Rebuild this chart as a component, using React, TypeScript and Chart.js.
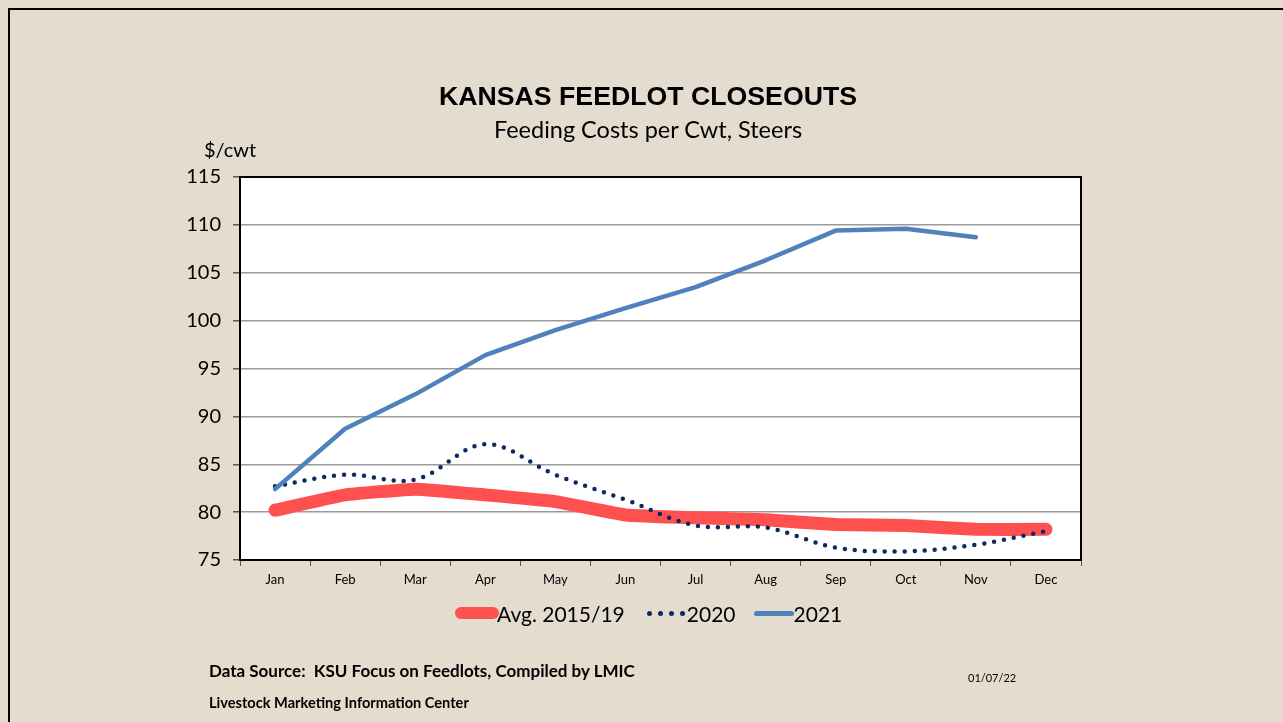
import React, { useEffect, useRef } from "react";
import { Chart, registerables } from "chart.js";

Chart.register(...registerables);

const months = ["Jan", "Feb", "Mar", "Apr", "May", "Jun", "Jul", "Aug", "Sep", "Oct", "Nov", "Dec"];
const avg1519 = [80.2, 81.8, 82.4, 81.8, 81.1, 79.7, 79.4, 79.2, 78.7, 78.6, 78.2, 78.2];
const y2020 = [82.7, 83.9, 83.4, 87.1, 83.9, 81.3, 78.6, 78.4, 76.3, 75.9, 76.6, 78.0];
const y2021 = [82.4, 88.7, 92.3, 96.4, 99.0, 101.3, 103.5, 106.3, 109.4, 109.6, 108.7, null];
const yMin = 75;
const yMax = 115;
const yStep = 5;

const seriesNames = ["Avg. 2015/19", "2020", "2021"];
const seriesColors = ["#ff5050", "#0c2a62", "#4f81bd"];

const bodyFont = "Lato, 'Open Sans', sans-serif";

const plotFrame = {
  id: "plotFrame",
  beforeDraw(chart: any) {
    const { ctx, chartArea: a } = chart;
    ctx.save();
    ctx.fillStyle = "#ffffff";
    ctx.fillRect(a.left, a.top, a.right - a.left, a.bottom - a.top);
    ctx.restore();
  },
  afterDraw(chart: any) {
    const { ctx, chartArea: a } = chart;
    ctx.save();
    ctx.strokeStyle = "#000000";
    ctx.lineWidth = 2;
    ctx.strokeRect(a.left, a.top, a.right - a.left, a.bottom - a.top);
    ctx.restore();
  },
};

export default function App() {
  const ref = useRef<HTMLCanvasElement | null>(null);

  useEffect(() => {
    if (!ref.current) return;
    const chart = new Chart(ref.current, {
      type: "line",
      data: {
        labels: months,
        datasets: [
          {
            label: seriesNames[2],
            data: y2021,
            borderColor: seriesColors[2],
            borderWidth: 4.5,
            pointRadius: 0,
            tension: 0,
            borderCapStyle: "round",
            borderJoinStyle: "round",
            fill: false,
            order: 1,
          },
          {
            label: seriesNames[1],
            data: y2020,
            borderColor: seriesColors[1],
            borderWidth: 4.5,
            borderDash: [0, 10],
            borderCapStyle: "round",
            pointRadius: 0,
            tension: 0.35,
            fill: false,
            order: 2,
          },
          {
            label: seriesNames[0],
            data: avg1519,
            borderColor: seriesColors[0],
            borderWidth: 13,
            borderCapStyle: "round",
            borderJoinStyle: "round",
            pointRadius: 0,
            tension: 0.1,
            fill: false,
            order: 3,
          },
        ],
      },
      options: {
        responsive: false,
        animation: false,
        events: [],
        layout: { padding: { top: 177, right: 202, bottom: 0, left: 0 } },
        plugins: {
          legend: { display: false },
          tooltip: { enabled: false },
          title: { display: false },
        },
        scales: {
          x: {
            type: "category",
            offset: true,
            grid: {
              offset: true,
              drawOnChartArea: false,
              tickLength: 6,
              color: "#555555",
              lineWidth: 1,
            },
            border: { display: true, color: "#000000", width: 2 },
            ticks: {
              color: "#000000",
              font: { family: "'Liberation Sans Narrow', Lato, sans-serif", size: 13 },
              padding: 6,
              maxRotation: 0,
              autoSkip: false,
            },
            afterFit: (s: any) => {
              s.height = 162;
            },
          },
          y: {
            min: yMin,
            max: yMax,
            grid: {
              color: "#9a9a9a",
              lineWidth: 1.5,
              tickLength: 7,
              tickColor: "#555555",
            },
            border: { display: true, color: "#000000", width: 2 },
            ticks: {
              stepSize: yStep,
              color: "#000000",
              font: { family: bodyFont, size: 20 },
              padding: 12,
            },
            afterFit: (s: any) => {
              s.width = 240;
            },
          },
        },
      },
      plugins: [plotFrame],
    });
    return () => chart.destroy();
  }, []);

  const abs = (style: React.CSSProperties): React.CSSProperties => ({ position: "absolute", ...style });

  return (
    <div
      style={{
        position: "fixed",
        left: 0,
        top: 0,
        width: 1283,
        height: 722,
        background: "#e3dccf",
        overflow: "hidden",
        fontFamily: bodyFont,
        color: "#000",
      }}
    >
      <div style={abs({ left: 8, top: 8, width: 1300, height: 740, border: "2px solid #000" })} />
      <canvas ref={ref} width={1283} height={722} style={abs({ left: 0, top: 0, width: 1283, height: 722 })} />
      <div
        style={abs({
          left: 0,
          width: 1296,
          top: 81,
          textAlign: "center",
          fontFamily: "'Liberation Sans', Arial, sans-serif",
          fontWeight: "bold",
          fontSize: 26.7,
          lineHeight: "30px",
        })}
      >
        KANSAS FEEDLOT CLOSEOUTS
      </div>
      <div style={abs({ left: 0, width: 1296, top: 115, textAlign: "center", fontSize: 23.5, lineHeight: "28px" })}>
        Feeding Costs per Cwt, Steers
      </div>
      <div style={abs({ left: 204, top: 136, fontSize: 20, lineHeight: "26px" })}>$/cwt</div>

      <div style={abs({ left: 455, top: 599, height: 28, display: "flex", alignItems: "center", fontSize: 21, whiteSpace: "nowrap" })}>
        <span style={{ display: "inline-block", width: 44, height: 12, borderRadius: 6, background: seriesColors[0] }} />
        <span style={{ marginLeft: -2 }}>{seriesNames[0]}</span>
        <span style={{ display: "inline-flex", gap: 6, marginLeft: 22, marginRight: 2 }}>
          {[0, 1, 2, 3].map((i) => (
            <span key={i} style={{ display: "inline-block", width: 5, height: 5, borderRadius: 3, background: seriesColors[1] }} />
          ))}
        </span>
        <span>{seriesNames[1]}</span>
        <span style={{ display: "inline-block", width: 40, height: 5, borderRadius: 3, background: seriesColors[2], marginLeft: 18 }} />
        <span>{seriesNames[2]}</span>
      </div>

      <div style={abs({ left: 209, top: 660, fontSize: 17, fontWeight: "bold", lineHeight: "22px", whiteSpace: "nowrap" })}>
        Data Source:&nbsp; KSU Focus on Feedlots, Compiled by LMIC
      </div>
      <div style={abs({ left: 209, top: 693, fontSize: 14.6, fontWeight: "bold", lineHeight: "20px", whiteSpace: "nowrap" })}>
        Livestock Marketing Information Center
      </div>
      <div style={abs({ left: 968, top: 670, fontSize: 11, lineHeight: "16px" })}>01/07/22</div>
    </div>
  );
}
